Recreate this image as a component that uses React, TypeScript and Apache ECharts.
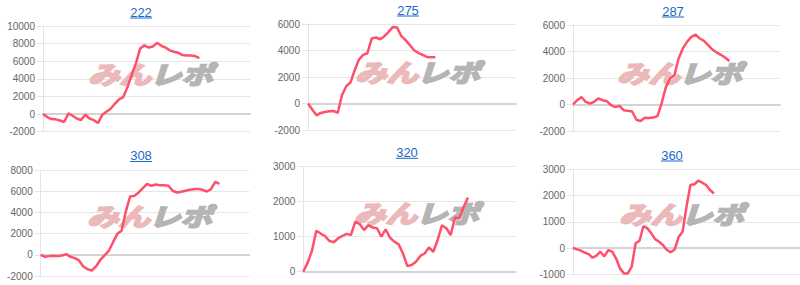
import React, { useEffect, useRef } from 'react';
import * as echarts from 'echarts';

const titles = ['222', '275', '287', '308', '320', '360'];

const s222 = [0, -340, -570, -600, -720, -900, 70, -190, -500, -680, -80, -500, -680, -1020, -110, 260, 600, 1170, 1660, 1930, 3060, 4460, 5750, 7450, 7800, 7550, 7680, 8080, 7760, 7550, 7230, 7080, 6970, 6700, 6660, 6660, 6590, 6360];
const s275 = [0, -455, -890, -710, -640, -580, -560, -710, 630, 1310, 1590, 2520, 3330, 3680, 3810, 4930, 5000, 4870, 5100, 5430, 5800, 5750, 5100, 4800, 4420, 4040, 3840, 3680, 3530, 3510, 3510];
const s287 = [0, 330, 570, 200, 75, 200, 450, 325, 250, -55, -200, -100, -430, -480, -530, -1150, -1250, -1000, -1010, -990, -880, 120, 1330, 1960, 2210, 3470, 4230, 4730, 5100, 5280, 4980, 4800, 4480, 4150, 3930, 3750, 3550, 3290];
const s308 = [0, -190, -125, -95, -125, -60, 60, -190, -315, -535, -1100, -1350, -1480, -1100, -470, -60, 380, 1190, 1980, 2260, 4090, 5500, 5560, 5880, 6290, 6700, 6510, 6630, 6570, 6570, 6510, 6040, 5880, 5940, 6040, 6130, 6190, 6220, 6130, 5970, 6190, 6880, 6700];
const s320 = [0, 260, 600, 1170, 1090, 1020, 880, 840, 950, 1020, 1080, 1050, 1430, 1360, 1190, 1330, 1260, 1240, 1000, 1210, 970, 860, 780, 520, 160, 190, 285, 450, 520, 695, 570, 905, 1330, 1240, 1050, 1550, 1520, 1855, 2120];
const s360 = [0, -50, -100, -170, -230, -370, -290, -140, -320, -76, -140, -390, -775, -965, -965, -710, 180, 280, 840, 750, 560, 340, 240, 110, -76, -165, -50, 430, 620, 1570, 2400, 2430, 2565, 2490, 2400, 2210, 2080];

const seriesData = [s222, s275, s287, s308, s320, s360];
const yMin = [-2000, -2000, -2000, -2000, 0, -1000];
const yMax = [10000, 6000, 6000, 8000, 3000, 3000];
const yStep = [2000, 2000, 2000, 2000, 1000, 1000];
const catCount = [50, 50, 50, 50, 50, 59];

const boxes = [
  { left: 43, top: 26, width: 207, height: 105.7 },
  { left: 308, top: 24.3, width: 208, height: 105.7 },
  { left: 573, top: 25, width: 207, height: 106 },
  { left: 40.7, top: 170, width: 208.6, height: 106 },
  { left: 303.3, top: 166.7, width: 212.4, height: 105 },
  { left: 573, top: 169.3, width: 227, height: 105 },
];
const titlePos = [[141, 12], [408, 10], [673, 11], [141, 155.5], [407, 152.3], [672, 155]];
const markPos = [[152, 73], [419, 71], [681, 72], [151, 215], [418, 212.5], [683, 213.5]];

const LINK = '#1a6bc6';

export default function App() {
  const ref = useRef<HTMLDivElement>(null);
  useEffect(() => {
    if (!ref.current) return;
    const chart = echarts.init(ref.current, undefined, { renderer: 'svg' });
    const grid = boxes.map((b) => ({ ...b, containLabel: false }));
    const xAxis = catCount.map((n, i) => ({
      type: 'category',
      gridIndex: i,
      data: Array.from({ length: n }, (_, k) => String(k)),
      boundaryGap: false,
      axisLabel: { show: false },
      axisTick: { show: false },
      splitLine: { show: false },
      axisLine: { show: true, onZero: true, lineStyle: { color: '#d4d4d4', width: 2 } },
    }));
    const yAxis = yMin.map((mn, i) => ({
      type: 'value',
      gridIndex: i,
      min: mn,
      max: yMax[i],
      interval: yStep[i],
      axisLabel: {
        color: '#666',
        fontSize: 10,
        fontFamily: '"Liberation Sans", Arial, sans-serif',
        margin: 8,
        formatter: (v: number) => String(v),
      },
      axisLine: { show: true, lineStyle: { color: '#e4e4e4' } },
      axisTick: { show: true, length: 6, lineStyle: { color: '#e6e6e6' } },
      splitLine: { show: true, lineStyle: { color: '#e6e6e6', width: 1 } },
    }));
    const series = seriesData.map((d, i) => ({
      type: 'line',
      xAxisIndex: i,
      yAxisIndex: i,
      data: d,
      symbol: 'none',
      smooth: false,
      lineStyle: { color: '#ff4f6a', width: 2.5 },
      z: 5,
    }));
    const graphics: any[] = [];
    titles.forEach((t, i) => {
      const [cx, cy] = titlePos[i];
      graphics.push({
        type: 'text',
        x: cx,
        y: cy,
        z: 10,
        style: {
          text: t,
          fill: LINK,
          fontSize: 13,
          fontFamily: '"Liberation Sans", Arial, sans-serif',
          align: 'center',
          verticalAlign: 'middle',
        },
      });
      graphics.push({
        type: 'line',
        z: 10,
        shape: { x1: cx - 11, y1: cy + 6, x2: cx + 11, y2: cy + 6 },
        style: { stroke: LINK, lineWidth: 1 },
      });
      const [mx, my] = markPos[i];
      graphics.push({
        type: 'text',
        x: mx - 1,
        y: my,
        scaleX: 1.05,
        scaleY: 0.82,
        z: 1,
        style: {
          text: 'みん',
          fill: '#ebb9b9',
          stroke: '#ebb9b9',
          lineWidth: 2.4,
          fontSize: 30,
          fontWeight: 'bold',
          fontStyle: 'italic',
          fontFamily: '"Noto Sans CJK JP", sans-serif',
          align: 'right',
          verticalAlign: 'middle',
        },
      });
      graphics.push({
        type: 'text',
        x: mx - 2,
        y: my,
        scaleX: 1.05,
        scaleY: 0.82,
        z: 1,
        style: {
          text: 'レポ',
          fill: '#b5b5b5',
          stroke: '#b5b5b5',
          lineWidth: 2.4,
          fontSize: 30,
          fontWeight: 'bold',
          fontStyle: 'italic',
          fontFamily: '"Noto Sans CJK JP", sans-serif',
          align: 'left',
          verticalAlign: 'middle',
        },
      });
    });
    chart.setOption({
      animation: false,
      backgroundColor: '#ffffff',
      grid,
      xAxis,
      yAxis,
      series,
      graphic: { elements: graphics },
    });
    return () => chart.dispose();
  }, []);
  return (
    <div
      ref={ref}
      style={{ position: 'fixed', left: 0, top: 0, width: 800, height: 285 }}
    />
  );
}
